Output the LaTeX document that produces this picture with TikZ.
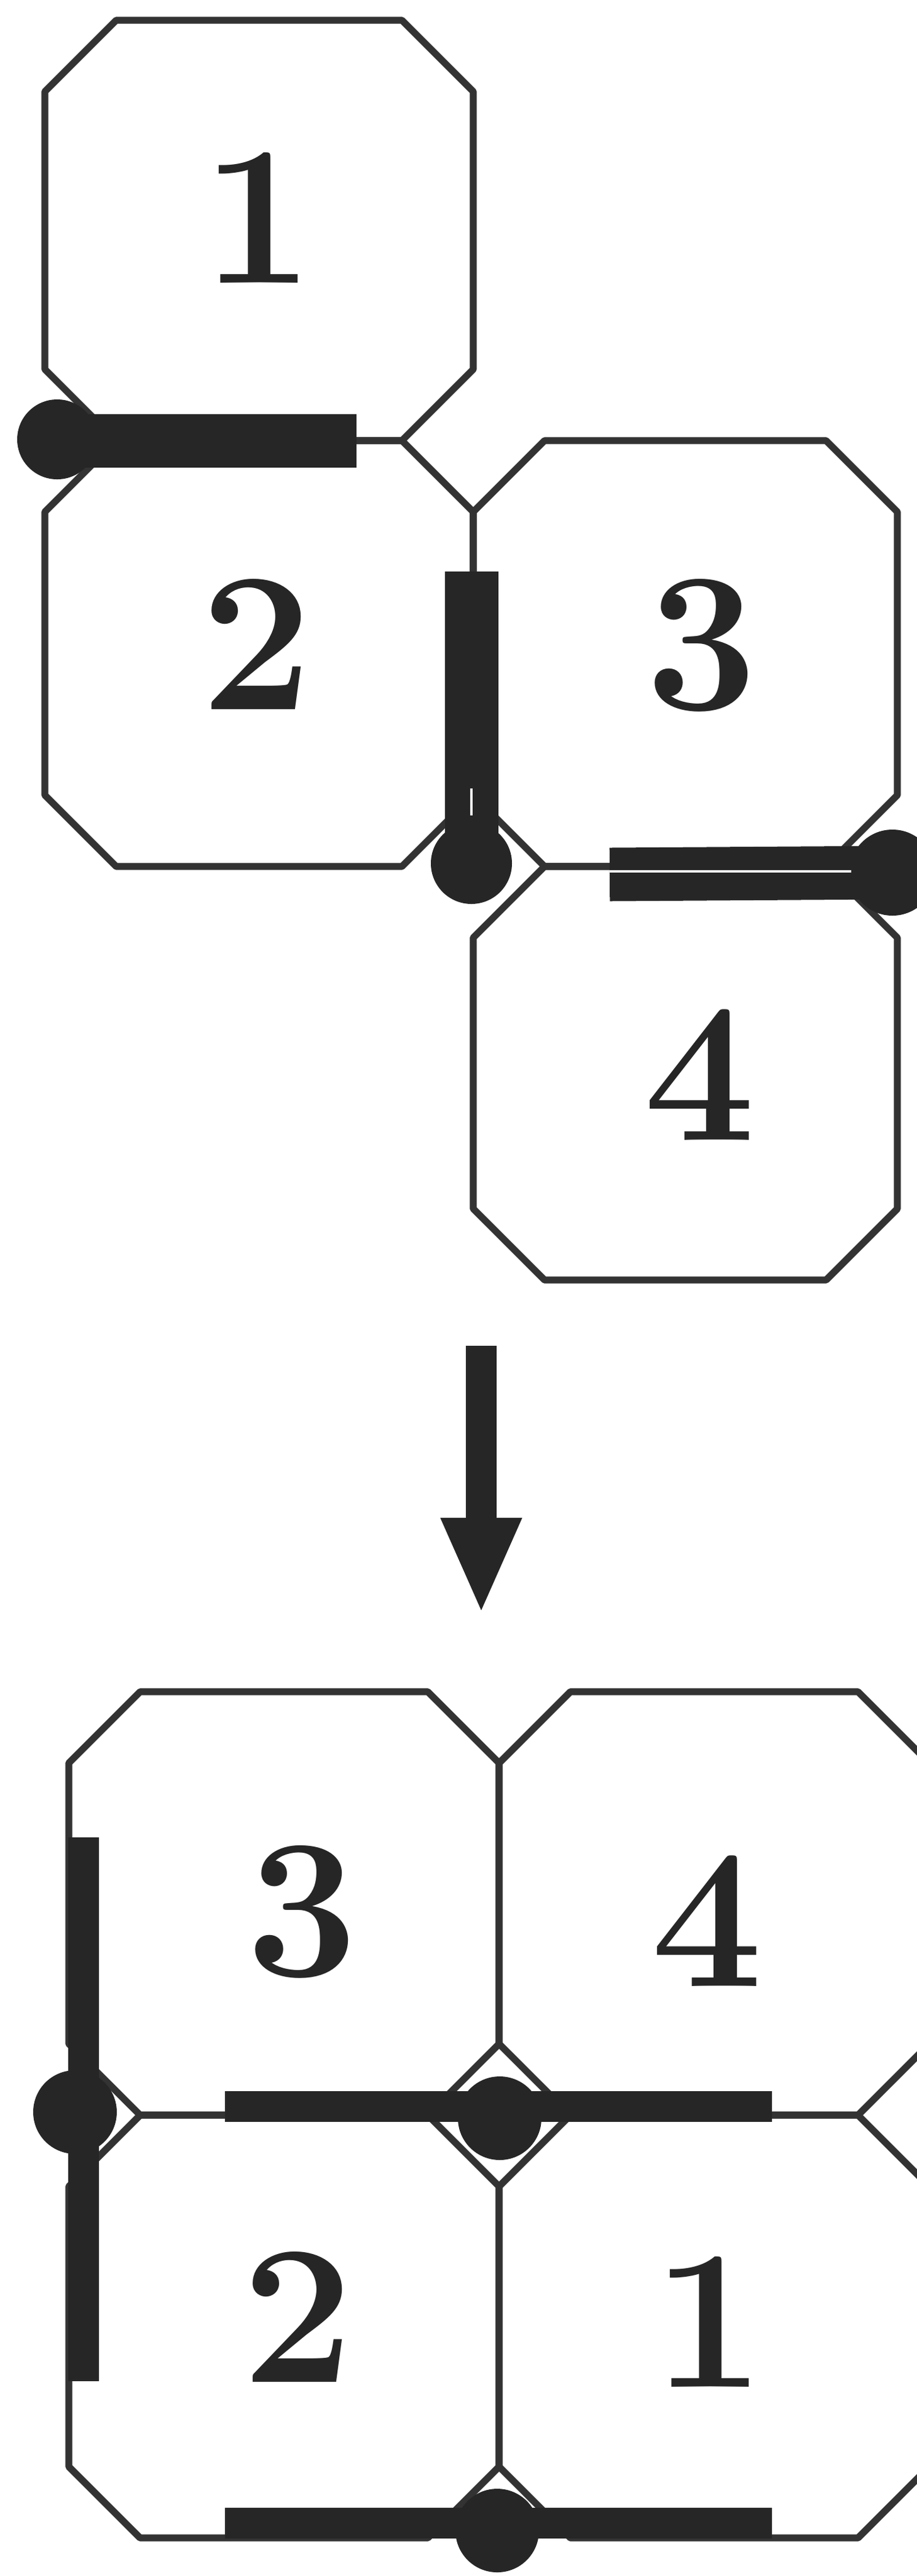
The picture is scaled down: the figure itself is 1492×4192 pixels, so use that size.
\documentclass[tikz,border=0pt]{standalone}
\usetikzlibrary{arrows.meta}
\begin{document}
\begin{tikzpicture}[x=0.1mm, y=-0.1mm,
    tile/.style = {draw=black!80, line width=3.2pt, line join=round},
    digit/.style = {font=\fontsize{92}{92}\selectfont\bfseries, text=black!85, inner sep=0pt},
    wide bar/.style = {draw=black!85, line width=8.7mm},
    slim bar/.style = {draw=black!85, line width=5mm},
    pin/.style = {fill=black!85},
    slit/.style = {draw=white, line width=1.4pt}]
  \clip (0,0) rectangle (1492,4192);
  \fill[white] (0,0) rectangle (1492,4192);
  \foreach \xa/\ya/\xb/\yb in {73/33/770/717, 73/717/770/1410, 770/717/1460/1410,
      770/1410/1460/2083, 112/2753/812/3442, 812/2753/1512/3442,
      112/3442/812/4130, 812/3442/1512/4130}
    \draw[tile] (\xa+116,\ya) -- (\xb-116,\ya) -- (\xb,\ya+116) -- (\xb,\yb-116)
      -- (\xb-116,\yb) -- (\xa+116,\yb) -- (\xa,\yb-116) -- (\xa,\ya+116) -- cycle;

  \coordinate (pinA) at (93,715);
  \coordinate (startA) at (93,717);
  \coordinate (endA) at (580,717);
  \coordinate (startB) at (767,930);
  \coordinate (pinB) at (767,1405);
  \coordinate (startC) at (992,1423);
  \coordinate (pinC) at (1452,1420);
  \coordinate (topD) at (136,2990);
  \coordinate (botD) at (136,3875);
  \coordinate (pinD) at (122,3437);
  \coordinate (leftE) at (366,3428);
  \coordinate (rightE) at (1256,3428);
  \coordinate (pinE) at (813,3447);
  \coordinate (leftF) at (366,4106);
  \coordinate (rightF) at (1256,4106);
  \coordinate (pinF) at (809,4118);
  \coordinate (arrowtop) at (783,2190);
  \coordinate (arrowtip) at (783,2627);

  \draw[wide bar] (startA) -- (endA);
  \fill[pin] (pinA) circle[radius=6.5mm];
  \draw[wide bar] (startB) -- (pinB);
  \fill[pin] (pinB) circle[radius=6.6mm];
  \draw[slit] (767,1283) -- (767,1327);
  \draw[wide bar] (startC) -- (pinC);
  \fill[pin] (pinC) circle[radius=7mm];
  \draw[slit] (992,1418) -- (1385,1418);

  \draw[slim bar, -{Triangle[length=15.7mm, width=12mm]}] (arrowtop) -- (arrowtip);

  \draw[slim bar] (topD) -- (botD);
  \fill[pin] (pinD) circle[radius=6.8mm];
  \draw[slim bar] (leftE) -- (rightE);
  \fill[pin] (pinE) circle[radius=6.8mm];
  \draw[slim bar] (leftF) -- (rightF);
  \fill[pin] (pinF) circle[radius=6.8mm];

  \node[digit] (t1) at (420,354) {1};
  \node[digit] (t2) at (418,1048) {2};
  \node[digit] (t3) at (1142,1050) {3};
  \node[digit] (t4) at (1139,1749) {4};
  \node[digit] (b3) at (492,3111) {3};
  \node[digit] (b4) at (1151,3126) {4};
  \node[digit] (b2) at (485,3770) {2};
  \node[digit] (b1) at (1154,3778) {1};
\end{tikzpicture}
\end{document}
